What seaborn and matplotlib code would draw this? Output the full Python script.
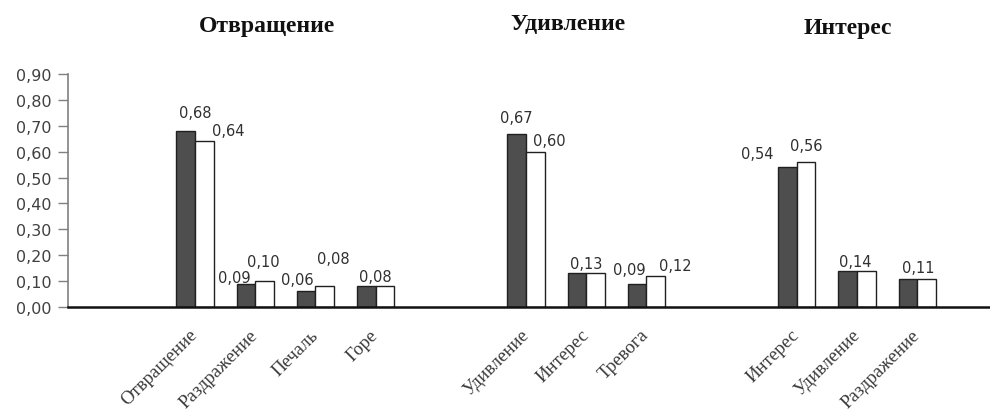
import numpy as np
import pandas as pd
import matplotlib
matplotlib.use("Agg")
import matplotlib.pyplot as plt
import matplotlib.transforms as mtransforms
import seaborn as sns

# ---------------- data ----------------
group_titles = ["Отвращение", "Удивление", "Интерес"]
group_cats = [
    ["Отвращение", "Раздражение", "Печаль", "Горе"],
    ["Удивление", "Интерес", "Тревога"],
    ["Интерес", "Удивление", "Раздражение"],
]
series_a = [0.68, 0.09, 0.06, 0.08, 0.67, 0.13, 0.09, 0.54, 0.14, 0.11]  # dark bars
series_b = [0.64, 0.10, 0.08, 0.08, 0.60, 0.13, 0.12, 0.56, 0.14, 0.11]  # white bars
series_names = ["A", "B"]
y_ticks = [0.0, 0.1, 0.2, 0.3, 0.4, 0.5, 0.6, 0.7, 0.8, 0.9]

# ---------------- layout ----------------
group_offsets = [0.0, 5.5, 10.0]
title_x = [1.2, 6.2, 10.85]
title_y = [0.935, 0.942, 0.932]
# label offsets (pixels) relative to each bar's top centre
offs_a = [(10, 18), (-12, 6), (-9, 12), (9, 10), (0, 16), (9, 10), (-8, 14), (-30, 14), (8, 9), (10, 11)]
offs_b = [(24, 11), (-1, 20), (9, 28), (-9, 10), (14, 11), (-9, 10), (20, 10), (0, 17), (-11, 9), (-9, 11)]

positions, labels = [], []
for off, cats in zip(group_offsets, group_cats):
    for i, c in enumerate(cats):
        positions.append(off + i)
        labels.append(c)

df = pd.DataFrame({
    "pos": positions * 2,
    "value": series_a + series_b,
    "series": [series_names[0]] * len(positions) + [series_names[1]] * len(positions),
})

sns.set_style("white")
plt.rcParams["font.family"] = ["DejaVu Sans"]

fig = plt.figure(figsize=(9.9, 4.14), dpi=100)
ax = fig.add_axes([68 / 990, (414 - 308) / 414, 1 - 68 / 990, (308 - 75) / 414])

sns.barplot(data=df, x="pos", y="value", hue="series", native_scale=True,
            palette=["#4e4e4e", "#ffffff"], width=0.62, edgecolor="#202020",
            linewidth=1.0, legend=False, ax=ax, errorbar=None)

ax.set_xlim(-2.11, 13.21)
ax.set_ylim(0, 0.9)
ax.set_yticks(y_ticks)
ax.set_yticklabels([f"{v:.2f}".replace(".", ",") for v in y_ticks],
                   fontsize=11.5, color="#404040")
ax.tick_params(axis="y", length=7, width=1, color="#808080", pad=5, left=True)
ax.set_xticks(positions)
ax.set_xticklabels(labels, rotation=45, ha="right", va="center",
                   rotation_mode="anchor", fontsize=13.5, color="#3a3a3a",
                   family=["Liberation Serif", "DejaVu Serif"])
ax.tick_params(axis="x", length=0, pad=18)
ax.set_xlabel("")
ax.set_ylabel("")

for s in ["top", "right"]:
    ax.spines[s].set_visible(False)
ax.spines["left"].set_color("#808080")
ax.spines["left"].set_linewidth(1.2)
ax.spines["bottom"].set_color("#111111")
ax.spines["bottom"].set_linewidth(1.8)

# value labels (a single label when both bars of a pair are equal)
bars_a = sorted(ax.containers[0].patches, key=lambda p: p.get_x())
bars_b = sorted(ax.containers[1].patches, key=lambda p: p.get_x())
for i, (ba, bb) in enumerate(zip(bars_a, bars_b)):
    ha_, hb_ = ba.get_height(), bb.get_height()
    items = [(ba, offs_a[i])]
    if not np.isclose(ha_, hb_):
        items.append((bb, offs_b[i]))
    for bar, (dx, dy) in items:
        h = bar.get_height()
        xc = bar.get_x() + bar.get_width() / 2
        ax.annotate(f"{h:.2f}".replace(".", ","), (xc, h),
                    xytext=(dx, dy), textcoords="offset pixels",
                    ha="center", va="center", fontsize=10.5, color="#303030")

trans = mtransforms.blended_transform_factory(ax.transData, fig.transFigure)
for t, tx, ty in zip(group_titles, title_x, title_y):
    ax.text(tx, ty, t, transform=trans, ha="center", va="center",
            fontsize=17, fontweight="bold",
            family=["Liberation Serif", "DejaVu Serif"], color="#111111")

fig.savefig("out.png", dpi=100)
